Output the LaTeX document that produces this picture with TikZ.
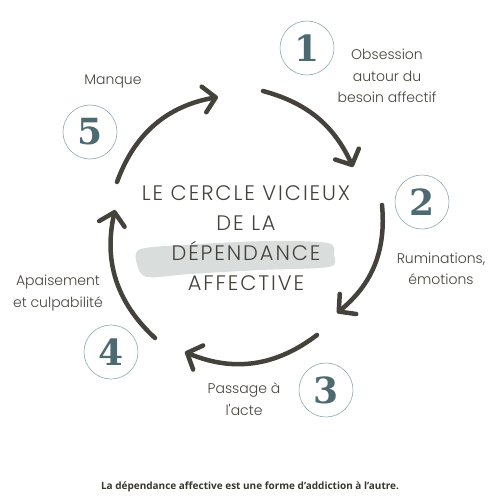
\documentclass[tikz,border=0pt]{standalone}
\usepackage{fontspec}
\setmainfont{Poppins}
\IfFontExistsTF{Poppins Light}{%
  \newfontfamily\lightfont{Poppins Light}%
  \newfontfamily\titlefont{Poppins Light}[LetterSpace=9]}{%
  \newfontfamily\lightfont{Poppins}%
  \newfontfamily\titlefont{Poppins}[LetterSpace=9]}
\newfontfamily\notefont{Open Sans}
\newfontfamily\numfont{DejaVu Serif}
\usetikzlibrary{arrows.meta}

\definecolor{ink}{HTML}{45423C}
\definecolor{rim}{HTML}{8FA9AE}
\definecolor{numdark}{HTML}{4E6A71}
\definecolor{brush}{HTML}{D9DDDC}

\begin{document}
\begin{tikzpicture}[x=1pt,y=-1pt,
  cyclearrow/.style={ink, line width=4.5pt, line cap=round,
    -{Straight Barb[length=12pt,width=26pt,round]}},
  numring/.style={circle, draw=rim, line width=0.6pt, minimum size=54pt,
    inner sep=0pt, text=numdark, font=\numfont\bfseries\fontsize{36}{36}\selectfont},
  steptext/.style={ink, align=center, font=\lightfont\fontsize{14}{21.5}\selectfont},
  titletext/.style={ink, align=center, font=\titlefont\fontsize{21}{30}\selectfont}]

  \useasboundingbox (0,0) rectangle (500,500);

  % grey brush stroke under the title
  \fill[brush] plot[smooth cycle] coordinates {(141,249) (200,244) (270,241) (328,243)
    (334,255) (329,267) (260,270) (190,274) (147,277) (137,264)};

  \node[titletext] (title) at (246,238) {LE CERCLE VICIEUX\\DE LA\\DÉPENDANCE\\AFFECTIVE};

  % the cycle
  \coordinate (a1s) at (117,182);
  \coordinate (a1e) at (218,97);
  \coordinate (a2s) at (263,91);
  \coordinate (a2e) at (353,167);
  \coordinate (a3s) at (382,205);
  \coordinate (a3e) at (337,313);
  \coordinate (a4s) at (317,335);
  \coordinate (a4e) at (185,352);
  \coordinate (a5s) at (155,338);
  \coordinate (a5e) at (115,210);

  \draw[cyclearrow] (a1s) to[bend left=30] (a1e);
  \draw[cyclearrow] (a2s) to[bend left=25] (a2e);
  \draw[cyclearrow] (a3s) to[bend left=28] (a3e);
  \draw[cyclearrow] (a4s) to[bend left=30] (a4e);
  \draw[cyclearrow] (a5s) to[bend left=30] (a5e);

  % numbered rings
  \node[numring] (n1) at (307,48) {1};
  \node[numring] (n2) at (422,202) {2};
  \node[numring] (n3) at (326,390) {3};
  \node[numring] (n4) at (111,352) {4};
  \node[numring] (n5) at (90,132) {5};

  \node[steptext] (t1) at (387,76) {Obsession\\autour du\\besoin affectif};
  \node[steptext] (t2) at (441,269) {Ruminations,\\émotions};
  \node[steptext] (t3) at (244,399) {Passage à\\l'acte};
  \node[steptext] (t4) at (58,293) {Apaisement\\et culpabilité};
  \node[steptext] (t5) at (113,81) {Manque};

  \node[text=ink!80!black, font=\notefont\bfseries\fontsize{10}{12}\selectfont] (note) at (250,487)
    {La dépendance affective est une forme d’addiction à l’autre.};

\end{tikzpicture}
\end{document}
